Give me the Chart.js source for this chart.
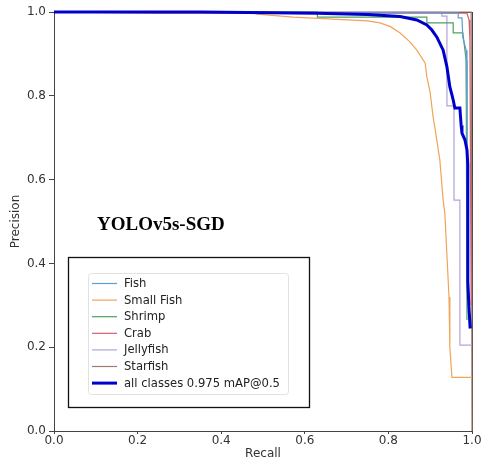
<!DOCTYPE html>
<html>
<head>
<meta charset="utf-8">
<script src="https://cdn.jsdelivr.net/npm/chart.js@4.4.1/dist/chart.umd.min.js"></script>
<style>
html,body{margin:0;padding:0;background:#fff;}
#wrap{width:482px;height:467px;position:relative;}
</style>
</head>
<body>
<div id="wrap"><canvas id="c" width="482" height="467"></canvas></div>
<script>
// ---- data ----
const classNames = ['Fish', 'Small Fish', 'Shrimp', 'Crab', 'Jellyfish', 'Starfish'];
const allLabel = 'all classes 0.975 mAP@0.5';
const chartTitle = 'YOLOv5s-SGD';
const xTicks = [0, 0.2, 0.4, 0.6, 0.8, 1.0];
const yTicks = [0, 0.2, 0.4, 0.6, 0.8, 1.0];

const recallFish = [0, 0.60, 0.967, 0.967, 0.976, 0.978, 0.986, 0.988, 0.990, 0.993, 0.998];
const precFish   = [1.0, 0.998, 0.998, 0.986, 0.986, 0.940, 0.909, 0.70, 0.45, 0.246, 0.246];

const recallSmallFish = [0, 0.47, 0.486, 0.572, 0.75, 0.78, 0.805, 0.828, 0.852, 0.868, 0.888, 0.892, 0.900, 0.907, 0.911, 0.923, 0.931, 0.935, 0.945, 0.947, 0.952, 1.0];
const precSmallFish   = [1.0, 1.0, 0.995, 0.988, 0.979, 0.974, 0.965, 0.950, 0.928, 0.909, 0.878, 0.845, 0.807, 0.749, 0.726, 0.647, 0.551, 0.520, 0.320, 0.200, 0.128, 0.128];

const recallShrimp = [0, 0.63, 0.63, 0.892, 0.892, 0.955, 0.955, 0.978, 0.986, 0.988, 0.988];
const precShrimp   = [1.0, 1.0, 0.988, 0.988, 0.974, 0.974, 0.950, 0.950, 0.885, 0.711, 0.265];

const recallCrab = [0, 0.25, 0.988, 0.993, 0.995, 0.998];
const precCrab   = [1.0, 0.997, 0.997, 0.981, 0.933, 0.30];

const recallJellyfish = [0, 0.928, 0.928, 0.940, 0.940, 0.957, 0.957, 0.971, 0.971, 1.0];
const precJellyfish   = [1.0, 1.0, 0.990, 0.990, 0.776, 0.776, 0.551, 0.551, 0.205, 0.205];

const recallStarfish = [0, 0.998, 1.0];
const precStarfish   = [1.0, 1.0, 0];

const recallAll = [0, 0.35, 0.63, 0.75, 0.828, 0.868, 0.892, 0.904, 0.916, 0.931, 0.940, 0.947, 0.952, 0.955, 0.959, 0.971, 0.974, 0.976, 0.983, 0.988, 0.990, 0.990, 0.993, 0.996];
const precAll   = [1.0, 1.0, 0.997, 0.994, 0.989, 0.981, 0.969, 0.957, 0.940, 0.909, 0.869, 0.821, 0.802, 0.790, 0.771, 0.771, 0.730, 0.711, 0.695, 0.671, 0.635, 0.356, 0.289, 0.245];

// ---- styles ----
const classColors = ['#5d9fd0', '#f0a457', '#4f9f5f', '#d0606c', '#b3a2d6', '#9c7a6e'];
const allColor = '#0000cc';
const fontFam = '"DejaVu Sans", sans-serif';

function pts(r, p){ return r.map((v,i)=>({x:v, y:p[i]})); }
const classRecalls = [recallFish, recallSmallFish, recallShrimp, recallCrab, recallJellyfish, recallStarfish];
const classPrecs = [precFish, precSmallFish, precShrimp, precCrab, precJellyfish, precStarfish];

const datasets = classNames.map((name,i)=>({
  label: name,
  data: pts(classRecalls[i], classPrecs[i]),
  borderColor: classColors[i],
  backgroundColor: classColors[i],
  borderWidth: 1.2,
  pointRadius: 0,
  showLine: true,
  fill: false,
  tension: 0,
  clip: false,
  order: i + 1
}));
datasets.push({
  label: allLabel,
  data: pts(recallAll, precAll),
  borderColor: allColor,
  backgroundColor: allColor,
  borderWidth: 3,
  pointRadius: 0,
  showLine: true,
  fill: false,
  tension: 0,
  clip: false,
  order: 0
});

const framePlugin = {
  id: 'frame',
  beforeDatasetsDraw(chart){
    const {ctx, chartArea:a} = chart;
    ctx.save();
    ctx.strokeStyle = '#444';
    ctx.lineWidth = 1;
    ctx.strokeRect(a.left + 0.5, a.top + 0.5, a.right - a.left, a.bottom - a.top);
    ctx.restore();
  }
};

const overlayPlugin = {
  id: 'overlay',
  afterDraw(chart){
    const ctx = chart.ctx;
    ctx.save();
    // title inside plot
    ctx.fillStyle = '#000';
    ctx.font = 'bold 19px "Liberation Serif", "Times New Roman", serif';
    ctx.textBaseline = 'alphabetic';
    ctx.textAlign = 'left';
    ctx.fillText(chartTitle, 97, 230);
    // outer legend box
    ctx.fillStyle = '#fff';
    ctx.fillRect(68, 257, 241, 150);
    ctx.strokeStyle = '#111';
    ctx.lineWidth = 1.3;
    ctx.strokeRect(68.5, 257.5, 241, 150);
    // inner legend frame
    ctx.strokeStyle = '#e2e2e2';
    ctx.lineWidth = 1;
    const x0 = 88.5, y0 = 273.5, w = 200, h = 121, r = 3;
    ctx.beginPath();
    ctx.moveTo(x0 + r, y0);
    ctx.arcTo(x0 + w, y0, x0 + w, y0 + h, r);
    ctx.arcTo(x0 + w, y0 + h, x0, y0 + h, r);
    ctx.arcTo(x0, y0 + h, x0, y0, r);
    ctx.arcTo(x0, y0, x0 + w, y0, r);
    ctx.closePath();
    ctx.stroke();
    // entries
    const labels = classNames.concat([allLabel]);
    const colors = classColors.concat([allColor]);
    ctx.font = '11.6px "DejaVu Sans", sans-serif';
    ctx.textBaseline = 'middle';
    labels.forEach((lab, i) => {
      const y = 283.5 + i * 16.6;
      ctx.strokeStyle = colors[i];
      ctx.lineWidth = i === labels.length - 1 ? 3 : 1.2;
      ctx.beginPath();
      ctx.moveTo(92, y);
      ctx.lineTo(117, y);
      ctx.stroke();
      ctx.fillStyle = '#222';
      ctx.fillText(lab, 124, y + 0.5);
    });
    ctx.restore();
  }
};

new Chart(document.getElementById('c'), {
  type: 'scatter',
  data: { datasets },
  options: {
    responsive: false,
    animation: false,
    events: [],
    layout: { padding: { left: 0, right: 10, top: 12, bottom: 0 } },
    plugins: { legend: { display: false }, tooltip: { enabled: false }, title: { display: false } },
    scales: {
      x: {
        type: 'linear', min: 0, max: 1,
        afterBuildTicks(s){ s.ticks = xTicks.map(v=>({value:v})); },
        afterFit(s){ s.height = 36; },
        ticks: { color: '#333', font: { family: fontFam, size: 12 }, padding: 0, maxRotation: 0,
                 callback: v => Number(v).toFixed(1) },
        grid: { display: true, drawOnChartArea: false, drawTicks: true, tickLength: 3, color: '#444' },
        border: { display: true, color: '#444', width: 1 },
        title: { display: true, text: 'Recall', color: '#333', font: { family: fontFam, size: 12 }, padding: { top: 1, bottom: 6 } }
      },
      y: {
        type: 'linear', min: 0, max: 1,
        afterBuildTicks(s){ s.ticks = yTicks.map(v=>({value:v})); },
        afterFit(s){ s.width = 54; },
        ticks: { color: '#333', font: { family: fontFam, size: 12 }, padding: 3,
                 callback: v => Number(v).toFixed(1) },
        grid: { display: true, drawOnChartArea: false, drawTicks: true, tickLength: 5, color: '#444' },
        border: { display: true, color: '#444', width: 1 },
        title: { display: true, text: 'Precision', color: '#333', font: { family: fontFam, size: 12 }, padding: { top: 9, bottom: 2 } }
      }
    }
  },
  plugins: [framePlugin, overlayPlugin]
});
</script>
</body>
</html>
